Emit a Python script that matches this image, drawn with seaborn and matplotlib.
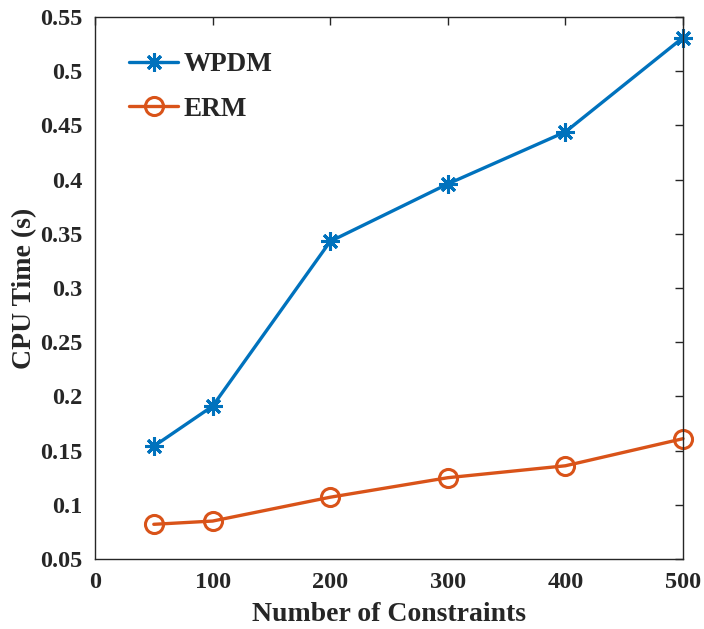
import matplotlib
matplotlib.use("Agg")
import matplotlib.pyplot as plt
import seaborn as sns
import pandas as pd

constraints = [50, 100, 200, 300, 400, 500]
wpdm = [0.154, 0.191, 0.343, 0.396, 0.444, 0.531]
erm = [0.082, 0.085, 0.107, 0.125, 0.136, 0.161]
x_ticks = [0, 100, 200, 300, 400, 500]
y_ticks = [0.05, 0.1, 0.15, 0.2, 0.25, 0.3, 0.35, 0.4, 0.45, 0.5, 0.55]
y_tick_labels = ["0.05", "0.1", "0.15", "0.2", "0.25", "0.3", "0.35", "0.4", "0.45", "0.5", "0.55"]

sns.set_style("white")
plt.rcParams['font.family'] = ['Liberation Serif', 'DejaVu Serif']
plt.rcParams['font.weight'] = 'bold'

df = pd.DataFrame({
    "x": constraints * 2,
    "y": wpdm + erm,
    "method": ["WPDM"] * len(constraints) + ["ERM"] * len(constraints),
})

fig = plt.figure(figsize=(7.04, 6.29), dpi=100)
ax = fig.add_axes([95/704, 1 - 559/629, (683 - 95)/704, (559 - 17)/629])

blue = "#0072BD"
orange = "#D95319"
sns.lineplot(data=df[df.method == "WPDM"], x="x", y="y", ax=ax, color=blue,
             marker=(8, 2, 0), markersize=13, markeredgewidth=2.2,
             markeredgecolor=blue, linewidth=2.4, label="WPDM", clip_on=False)
sns.lineplot(data=df[df.method == "ERM"], x="x", y="y", ax=ax, color=orange,
             marker="o", markersize=13, markerfacecolor="none",
             markeredgewidth=2.2, markeredgecolor=orange, linewidth=2.4, label="ERM",
             clip_on=False)

ax.set_xlim(0, 500)
ax.set_ylim(0.05, 0.55)
ax.set_xticks(x_ticks)
ax.set_yticks(y_ticks)
ax.set_yticklabels(y_tick_labels)
ax.tick_params(direction="in", length=6, width=1, colors="#262626",
               top=True, right=True, labelsize=17.5, pad=9)
for lab in ax.get_xticklabels() + ax.get_yticklabels():
    lab.set_fontweight("bold")
    lab.set_color("#262626")
for s in ax.spines.values():
    s.set_color("#262626")
    s.set_linewidth(1.0)

ax.set_xlabel("Number of Constraints", fontsize=20, fontweight="bold", color="#262626", labelpad=7)
ax.set_ylabel("CPU Time (s)", fontsize=20, fontweight="bold", color="#262626", labelpad=2)

leg = ax.legend(loc="upper left", frameon=False, fontsize=19.5, handlelength=1.8,
                borderaxespad=0.0, labelspacing=0.72, handletextpad=0.2,
                bbox_to_anchor=(0.04, 0.955))
for t in leg.get_texts():
    t.set_fontweight("bold")

fig.savefig("out.png", dpi=100)
